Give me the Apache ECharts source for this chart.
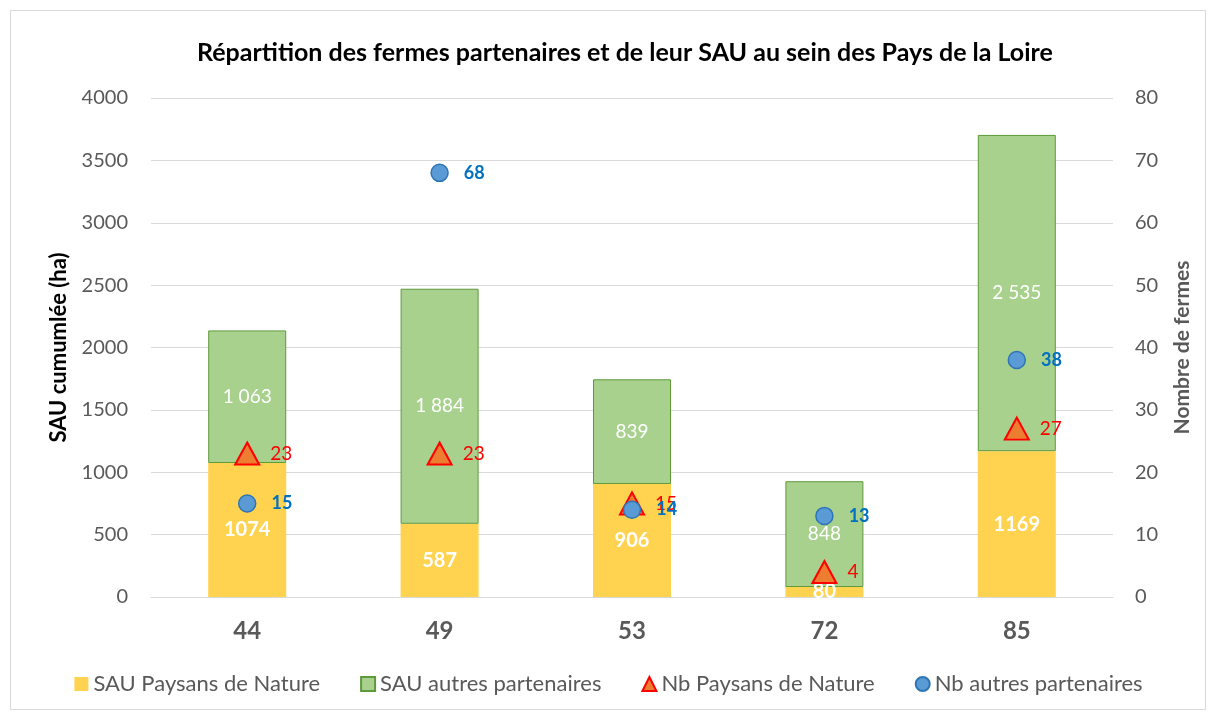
<!DOCTYPE html>
<html><head><meta charset="utf-8">
<script src="https://cdn.jsdelivr.net/npm/echarts@6/dist/echarts.min.js"></script>
<style>
html,body{margin:0;padding:0;background:#fff;}
#frame{position:absolute;left:10px;top:10px;width:1196px;height:700px;border:1px solid #d9d9d9;box-sizing:border-box;}
#c{position:absolute;left:0;top:0;width:1217px;height:716px;}
</style></head>
<body><div id="frame"></div><div id="c"></div>
<script>
const categories = ['44','49','53','72','85'];
const sauPaysans = [1074, 587, 906, 80, 1169];
const sauAutres = [1063, 1884, 839, 848, 2535];
const nbPaysans = [23, 23, 15, 4, 27];
const nbAutres = [15, 68, 14, 13, 38];
const leftTicks = {min:0, max:4000, interval:500};
const rightTicks = {min:0, max:80, interval:10};

const fnt = 'Lato, "Open Sans", sans-serif';
const fmtSpace = v => String(v).replace(/\B(?=(\d{3})+(?!\d))/g, ' ');
const chart = echarts.init(document.getElementById('c'));
chart.setOption({
  animation:false,
  title:{text:'Répartition des fermes partenaires et de leur SAU au sein des Pays de la Loire',
    left:192, top:35, textStyle:{fontFamily:fnt, fontSize:25, fontWeight:'bold', color:'#000'}},
  grid:{left:151, right:104, top:98, bottom:119},
  legend:{bottom:16, left:'center', itemGap:40, itemWidth:14, itemHeight:14,
    textStyle:{fontFamily:fnt, fontSize:22, color:'#595959'},
    data:[{name:'SAU Paysans de Nature', icon:'rect'},{name:'SAU autres partenaires', icon:'rect'},
      {name:'Nb Paysans de Nature', icon:'triangle'},{name:'Nb autres partenaires', icon:'circle'}]},
  xAxis:{type:'category', data:categories,
    axisLine:{lineStyle:{color:'#d9d9d9', width:1}}, axisTick:{show:false},
    axisLabel:{fontFamily:fnt, fontSize:24, fontWeight:'bold', color:'#595959', margin:22}},
  yAxis:[
    {type:'value', min:leftTicks.min, max:leftTicks.max, interval:leftTicks.interval,
     name:'SAU cumumlée (ha)', nameLocation:'middle', nameGap:81, nameRotate:90,
     nameTextStyle:{fontFamily:fnt, fontSize:22, fontWeight:'bold', color:'#000'},
     axisLabel:{fontFamily:fnt, fontSize:20, color:'#595959', margin:23, formatter:v=>String(v)},
     splitLine:{lineStyle:{color:'#d9d9d9'}}, axisLine:{show:false}, axisTick:{show:false}},
    {type:'value', min:rightTicks.min, max:rightTicks.max, interval:rightTicks.interval,
     name:'Nombre de fermes', nameLocation:'middle', nameGap:59, nameRotate:90,
     nameTextStyle:{fontFamily:fnt, fontSize:21, fontWeight:'bold', color:'#595959'},
     axisLabel:{fontFamily:fnt, fontSize:20, color:'#595959', margin:22},
     splitLine:{show:false}, axisLine:{show:false}, axisTick:{show:false}}
  ],
  series:[
    {name:'SAU Paysans de Nature', type:'bar', stack:'sau', barWidth:78, data:sauPaysans,
     itemStyle:{color:'#FFD34F'},
     label:{show:true, position:'inside', fontFamily:fnt, fontSize:20, fontWeight:'bold', color:'#fff'}},
    {name:'SAU autres partenaires', type:'bar', stack:'sau', barWidth:78, data:sauAutres,
     itemStyle:{color:'#A9D18E', borderColor:'#5E9A3A', borderWidth:1},
     label:{show:true, position:'inside', fontFamily:fnt, fontSize:19, color:'#fff',
       formatter:p=>fmtSpace(p.value)}},
    {name:'Nb Paysans de Nature', type:'scatter', yAxisIndex:1, data:nbPaysans,
     symbol:'triangle', symbolSize:[24,22],
     itemStyle:{color:'#ED7D31', borderColor:'#FF0000', borderWidth:2, opacity:1},
     label:{show:true, position:'right', distance:10, fontFamily:fnt, fontSize:19, color:'#FF0000'}},
    {name:'Nb autres partenaires', type:'scatter', yAxisIndex:1, data:nbAutres,
     symbol:'circle', symbolSize:17,
     itemStyle:{color:'#5B9BD5', borderColor:'#2E75B6', borderWidth:1.5, opacity:1},
     label:{show:true, position:'right', distance:15, fontFamily:fnt, fontSize:18, fontWeight:'bold', color:'#0070C0'}}
  ]
});
</script></body></html>
